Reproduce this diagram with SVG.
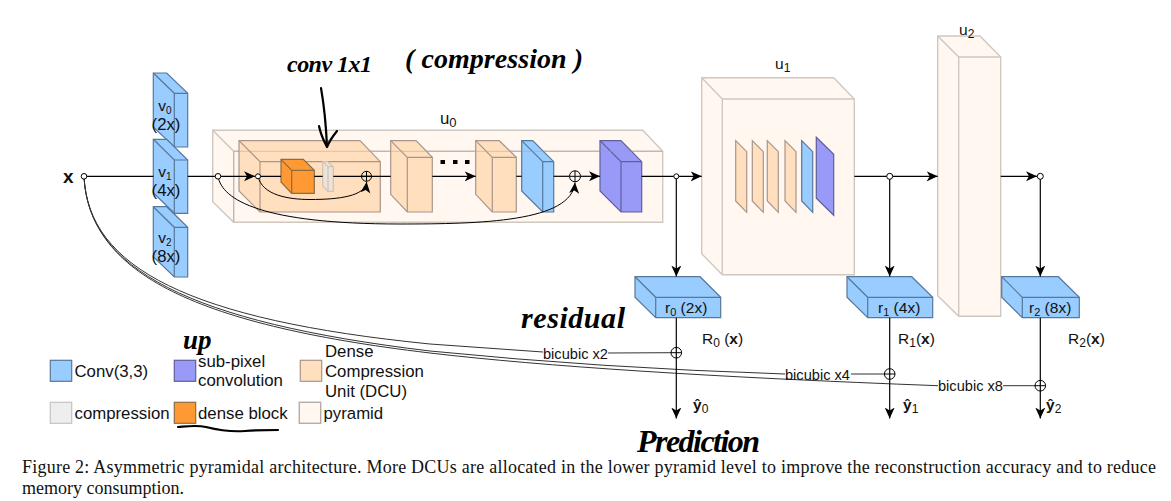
<svg xmlns="http://www.w3.org/2000/svg" width="1171" height="501" viewBox="0 0 1171 501">
<defs>
<marker id="arr" markerUnits="userSpaceOnUse" markerWidth="14" markerHeight="12" refX="11" refY="5" orient="auto"><path d="M0,0 L11,5 L0,10 L3,5 Z" fill="#000"/></marker>
</defs>
<style>
text{font-family:"Liberation Sans",Arial,sans-serif;fill:#111}
.l{font-size:16.8px}.s{font-size:15.5px}.t{font-size:14.6px}.b{font-weight:bold}
.c{text-anchor:middle}
.blue{fill:#99ccff;stroke:#56789c;stroke-width:1.2}
.purple{fill:#9999f8;stroke:#5f5f9c;stroke-width:1.2}
.peach{fill:#ffdfbd;stroke:#a9968a;stroke-width:1.2}
.pyr{fill:#fff7f0;stroke:#cfc8c0;stroke-width:1.4}
.orange{fill:#ff9933;stroke:#8d6c45;stroke-width:1.2}
.comp{fill:#eee3d8;stroke:#cfc4b8;stroke-width:1.2}
.grey{fill:#eeeeee;stroke:#c4c4c4;stroke-width:1.2}
.e{fill:none}
.line{fill:none;stroke:#000;stroke-width:1.2}
.gl{fill:none;stroke:#333;stroke-width:1}
.a{marker-end:url(#arr)}
.dot{fill:#fff;stroke:#000;stroke-width:1}
.ring{fill:none;stroke:#000;stroke-width:1}
.hand{font-family:"Liberation Serif",serif;font-style:italic;font-weight:bold;fill:#000}
.ink{fill:none;stroke:#000;stroke-width:2.2;stroke-linecap:round;stroke-linejoin:round}
.cap{font-family:"Liberation Serif",serif;font-size:18px;fill:#111}
</style>

<g id="pyramid-u0">
<path class="pyr" d="M212.7,130.3 H642.7 L662.7,151.3 V222.3 H233.7 L212.7,201.7 Z"/>
<path class="pyr e" d="M212.7,130.3 L233.7,151.3 H662.7 M233.7,151.3 V222.3"/>
<text class="l" x="440" y="124">u<tspan font-size="13" dy="3">0</tspan></text>
</g>
<g id="dcu-0">
<path class="peach" d="M239,140.7 H360 L380.3,161.7 V212 H260 L239,191 Z"/>
<path class="peach e" d="M239,140.7 L260,161.7 H380.3 M260,161.7 V212"/>
</g>
<g id="dense-block">
<path class="orange" d="M281,159.3 H303.3 L314.3,170.3 V193.3 H291.7 L281,182 Z"/>
<path class="orange e" d="M281,159.3 L291.7,170.3 H314.3 M291.7,170.3 V193.3"/>
</g>
<g id="compression">
<path class="comp" d="M322.7,161.7 H327.7 L333.3,166.7 V191.3 H328 L322.7,186 Z"/>
<path class="comp e" d="M322.7,161.7 L328,166.7 H333.3 M328,166.7 V191.3"/>
</g>
<g id="dcu-1">
<path class="peach" d="M390.7,140.7 H416 L432.3,157.3 V212 H407.3 L390.7,194.3 Z"/>
<path class="peach e" d="M390.7,140.7 L407.3,157.3 H432.3 M407.3,157.3 V212"/>
</g>
<g id="dcu-2">
<path class="peach" d="M475.7,140.7 H499.3 L516.3,157.3 V212 H492.3 L475.7,194.3 Z"/>
<path class="peach e" d="M475.7,140.7 L492.3,157.3 H516.3 M492.3,157.3 V212"/>
</g>
<g id="dots">
<rect x="440.5" y="160" width="4.5" height="4" fill="#000"/><rect x="453" y="160" width="4.5" height="4" fill="#000"/><rect x="465" y="160" width="4.5" height="4" fill="#000"/>
</g>
<g id="conv-u0">
<path class="blue" d="M521.7,140.7 H532.7 L553.7,161.7 V212 H542.7 L521.7,191 Z"/>
<path class="blue e" d="M521.7,140.7 L542.7,161.7 H553.7 M542.7,161.7 V212"/>
</g>
<g id="subpixel-u0">
<path class="purple" d="M600,140.7 H621 L641.7,161.7 V212 H621 L600,191 Z"/>
<path class="purple e" d="M600,140.7 L621,161.7 H641.7 M621,161.7 V212"/>
</g>
<path d="M233.7,151.3 H662.7 M233.7,151.3 V222.3" fill="none" stroke="#a89c90" stroke-width="1" opacity="0.45"/>

<g id="v0">
<path class="blue" d="M153.3,73 H166.7 L187.7,93.3 V147 H174.3 L153.3,127 Z"/>
<path class="blue e" d="M153.3,73 L174.3,93.3 H187.7 M174.3,93.3 V147"/>
<text class="s c" x="165" y="111">v<tspan font-size="10" dy="3">0</tspan></text>
<text class="l c" x="166" y="130">(2x)</text>
</g>
<g id="v1">
<path class="blue" d="M153.3,139.3 H166.7 L187.7,160 V213.3 H174.3 L153.3,192.7 Z"/>
<path class="blue e" d="M153.3,139.3 L174.3,160 H187.7 M174.3,160 V213.3"/>
<text class="s c" x="165" y="177">v<tspan font-size="10" dy="3">1</tspan></text>
<text class="l c" x="166" y="196">(4x)</text>
</g>
<g id="v2">
<path class="blue" d="M153.3,206.7 H166.7 L187.7,227.3 V277 H174.3 L153.3,256.7 Z"/>
<path class="blue e" d="M153.3,206.7 L174.3,227.3 H187.7 M174.3,227.3 V277"/>
<text class="s c" x="165" y="243">v<tspan font-size="10" dy="3">2</tspan></text>
<text class="l c" x="166" y="262">(8x)</text>
</g>

<g id="pyramid-u1">
<path class="pyr" d="M701.7,77.7 H833.7 L854.3,99 V274.7 H722.3 L701.7,253.7 Z"/>
<path class="pyr e" d="M701.7,77.7 L722.3,99 H854.3 M722.3,99 V274.7"/>
<text class="s" x="775" y="69">u<tspan font-size="12" dy="3">1</tspan></text>
<path class="peach" d="M735.7,140.7 L746.7,151.7 V212.3 L735.7,201 Z"/>
<path class="peach" d="M752.3,140.7 L763.3,151.7 V212.3 L752.3,201 Z"/>
<path class="peach" d="M767.3,140.7 L778.3,151.7 V212.3 L767.3,201 Z"/>
<path class="peach" d="M785,140.7 L796,151.7 V212.3 L785,201 Z"/>
<path class="blue" d="M801.7,140.7 L812.7,151.7 V212.3 L801.7,201 Z"/>
<path class="purple" d="M816.3,137.3 L833.7,154.3 V215.3 L816.3,198.3 Z"/>
</g>
<g id="pyramid-u2">
<path class="pyr" d="M937.7,36 H980 L1000.7,57 V316.3 H958.7 L937.7,295.7 Z"/>
<path class="pyr e" d="M937.7,36 L958.7,57 H1000.7 M958.7,57 V316.3"/>
<text class="s" x="959" y="35">u<tspan font-size="12" dy="3">2</tspan></text>
</g>
<g id="r0">
<path class="blue" d="M635,276.7 H700 L720.7,297.3 V317.7 H655.7 L635,297.3 Z"/>
<path class="blue e" d="M635,276.7 L655.7,297.3 H720.7 M655.7,297.3 V317.7"/>
<text class="s" x="665" y="313">r<tspan font-size="11" dy="3">0</tspan><tspan dy="-3"> (2x)</tspan></text>
</g>
<g id="r1">
<path class="blue" d="M847,276.7 H911.7 L932.7,297.3 V317.7 H867.7 L847,297.3 Z"/>
<path class="blue e" d="M847,276.7 L867.7,297.3 H932.7 M867.7,297.3 V317.7"/>
<text class="s" x="878" y="313">r<tspan font-size="11" dy="3">1</tspan><tspan dy="-3"> (4x)</tspan></text>
</g>
<g id="r2">
<path class="blue" d="M1001.7,276.7 H1058.3 L1079.3,297.3 V317.7 H1022.3 L1001.7,297.3 Z"/>
<path class="blue e" d="M1001.7,276.7 L1022.3,297.3 H1079.3 M1022.3,297.3 V317.7"/>
<text class="s" x="1029" y="313">r<tspan font-size="11" dy="3">2</tspan><tspan dy="-3"> (8x)</tspan></text>
</g>

<g id="connectors">
<path class="line" d="M84,176.3 H153.3 M187.7,176.3 H218"/>
<path class="line a" d="M218,176.3 H255"/>
<path class="line" d="M258,176.3 H281 M314.3,176.3 H322.7 M333.3,176.3 H390.7"/>
<path class="line a" d="M432.3,176.3 H475.7"/>
<path class="line" d="M516.3,176.3 H521.7"/>
<path class="line" d="M553.7,176.3 H569"/>
<path class="line a" d="M581,176.3 H600"/>
<path class="line a" d="M641.7,176.3 H701.7"/>
<path class="line a" d="M676.3,176.3 V276.5"/>
<path class="line a" d="M854.3,176.3 H937.7"/>
<path class="line a" d="M889.7,176.3 V276.5"/>
<path class="line a" d="M1000.7,176.3 H1037"/>
<path class="line a" d="M1040.3,176.3 V276.5"/>
<path class="line a" style="stroke-width:1" d="M258,176.3 C262,195 288,199.5 310,199.5 C340,199.5 365,196 366.7,182"/>
<path class="line a" style="stroke-width:1" d="M218,176.3 C222,200 262,224 400,224 C480,224 572,222 575,182.5"/>
<path class="gl" d="M84,176.3 C88,268 190,320 430,344 L543,352"/>
<path class="gl" d="M84,176.3 C88,269 188,322 430,351 Q 600,368 785,374"/>
<path class="gl" d="M84,176.3 C89,270 186,324 430,353 Q 600,373 938,385.7"/>
<path class="gl" d="M608,353 L671,352.7 M851,374 H884.4 M1003,385.7 H1035"/>
<path class="line a" d="M676.3,317.7 V418.5"/>
<path class="line a" d="M889.7,317.7 V418.5"/>
<path class="line a" d="M1040.3,317.7 V418.5"/>
<g class="nodes">
<circle class="dot" cx="84" cy="176.3" r="2.8"/>
<circle class="dot" cx="218" cy="176.3" r="2.8"/>
<circle class="dot" cx="258" cy="176.3" r="2.5"/>
<circle class="dot" cx="676.3" cy="176.3" r="2.5"/>
<circle class="dot" cx="889.7" cy="176.3" r="3"/>
<circle class="dot" cx="1040.3" cy="176.3" r="3"/>
</g>
<path class="ring" d="M361.5,176.3 a5,5 0 1,0 10,0 a5,5 0 1,0 -10,0 M366.5,171.3 v10 M361.5,176.3 h10"/>
<path class="ring" d="M569.5,176.3 a5.5,5.5 0 1,0 11,0 a5.5,5.5 0 1,0 -11,0 M575,170.8 v11 M569.5,176.3 h11"/>
<path class="ring" d="M671,352.7 a5.3,5.3 0 1,0 10.6,0 a5.3,5.3 0 1,0 -10.6,0 M671,352.7 h10.6"/>
<path class="ring" d="M884.4,374 a5.3,5.3 0 1,0 10.6,0 a5.3,5.3 0 1,0 -10.6,0 M884.4,374 h10.6"/>
<path class="ring" d="M1035,385.7 a5.3,5.3 0 1,0 10.6,0 a5.3,5.3 0 1,0 -10.6,0 M1035,385.7 h10.6"/>
</g>

<g id="labels">
<text class="b" x="63" y="183" font-size="19">x</text>
<text class="t" x="543" y="358.5">bicubic x2</text>
<text class="t" x="785" y="379.5">bicubic x4</text>
<text class="t" x="938" y="391">bicubic x8</text>
<text class="s" x="702" y="343.5">R<tspan font-size="12" dy="3">0</tspan><tspan dy="-3"> (</tspan><tspan font-weight="bold">x</tspan>)</text>
<text class="s" x="898" y="343.5">R<tspan font-size="12" dy="3">1</tspan><tspan dy="-3">(</tspan><tspan font-weight="bold">x</tspan>)</text>
<text class="s" x="1068" y="343.5">R<tspan font-size="12" dy="3">2</tspan><tspan dy="-3">(</tspan><tspan font-weight="bold">x</tspan>)</text>
<text class="s b" x="693" y="410">ŷ<tspan font-size="12" font-weight="normal" dy="3">0</tspan></text>
<text class="s b" x="903" y="410">ŷ<tspan font-size="12" font-weight="normal" dy="3">1</tspan></text>
<text class="s b" x="1046" y="410">ŷ<tspan font-size="12" font-weight="normal" dy="3">2</tspan></text>
</g>

<g id="legend">
<rect class="blue" x="50.3" y="360.3" width="21.4" height="21"/>
<text class="l" x="74.5" y="376.8">Conv(3,3)</text>
<rect class="purple" x="174.3" y="360.3" width="21.4" height="21"/>
<text class="l" x="198" y="366.5">sub-pixel</text>
<text class="l" x="198" y="386">convolution</text>
<rect class="peach" x="300.3" y="360.3" width="21.4" height="21"/>
<text class="l" x="325" y="357">Dense</text>
<text class="l" x="325" y="377">Compression</text>
<text class="l" x="325" y="397">Unit (DCU)</text>
<rect class="grey" x="50.3" y="402.3" width="21.4" height="21"/>
<text class="l" x="74.5" y="418.8">compression</text>
<rect class="orange" x="174.3" y="402.3" width="21.4" height="21"/>
<text class="l" x="198" y="418.8">dense block</text>
<rect class="pyr" x="299.3" y="402.3" width="21.4" height="21" style="stroke:#b5aca4"/>
<text class="l" x="323.5" y="418.8">pyramid</text>
</g>

<g id="annotations">
<text class="hand" x="287" y="72" font-size="24" font-weight="normal" textLength="85" lengthAdjust="spacing">conv 1x1</text>
<text class="hand" x="405" y="68" font-size="28" textLength="178" lengthAdjust="spacing">( compression )</text>
<path class="ink" d="M321,88 C324,105 326,125 327,146 M319,126 C321,136 325,143 327,147 C329,142 333,136 337,131"/>
<text class="hand" x="183" y="349" font-size="27">up</text>
<text class="hand" x="521" y="328" font-size="30" textLength="104" lengthAdjust="spacing">residual</text>
<text class="hand" x="637" y="452" font-size="32" textLength="123" lengthAdjust="spacing">Prediction</text>
<path class="ink" d="M178,427 C190,426 197,425 206,427 C218,430 232,432 245,431 C258,430 268,430 278,430"/>
</g>

<g id="caption">
<text class="cap" x="22" y="473" textLength="1134" lengthAdjust="spacing">Figure 2: Asymmetric pyramidal architecture. More DCUs are allocated in the lower pyramid level to improve the reconstruction accuracy and to reduce</text>
<text class="cap" x="22" y="494">memory consumption.</text>
</g>
</svg>
